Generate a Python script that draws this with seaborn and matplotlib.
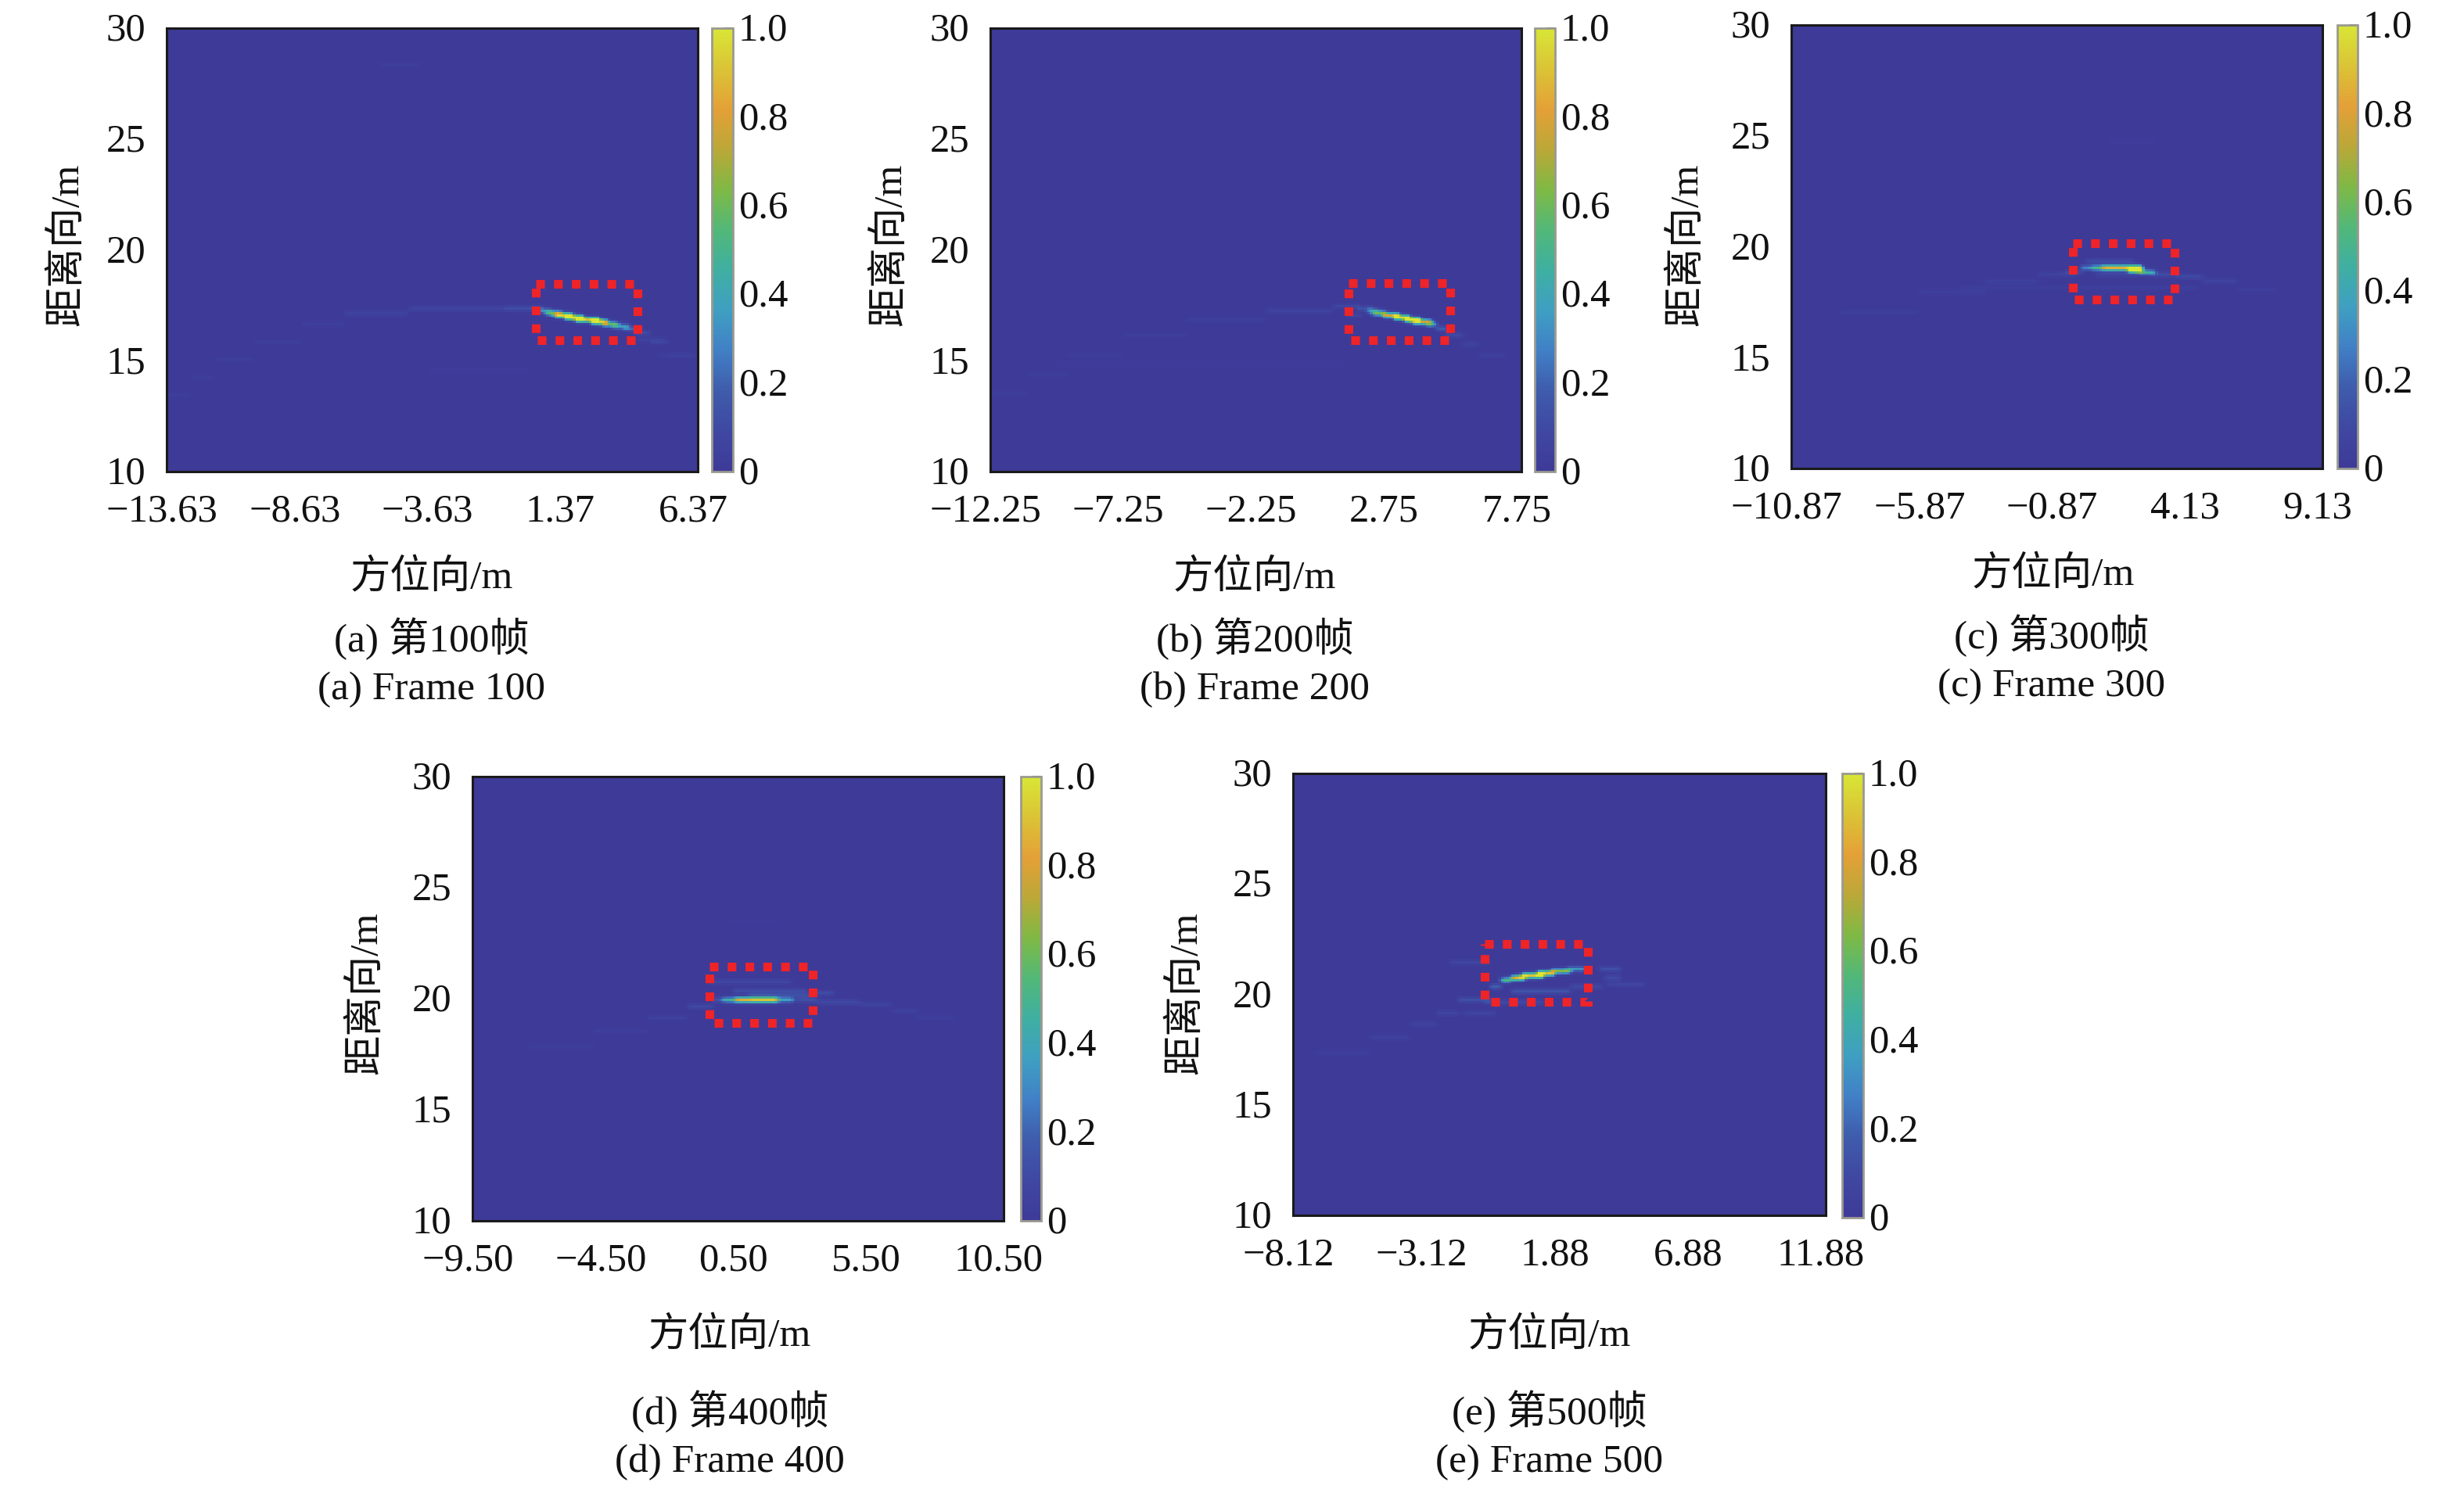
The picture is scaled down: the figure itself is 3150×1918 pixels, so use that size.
import numpy as np
import pandas as pd
import matplotlib
matplotlib.use('Agg')
import matplotlib.pyplot as plt
import seaborn as sns
from matplotlib.colors import LinearSegmentedColormap
from matplotlib.patches import Rectangle
from matplotlib.transforms import ScaledTranslation

# streak data, one run of cells per entry: x from, x to, range, level
a_x0 = [-13.6, -12.7, -11.8, -10.3, -8.5, -6.9, -4.5, -0.9, -5.6, -3.9, 0.2, 0.4, 0.7, 1.0, 1.4, 1.8, 2.4, 2.8, 3.2, 3.6, 4.0, 4.6, 5.3, 4.1, 4.9]
a_x1 = [-12.7, -11.8, -10.3, -8.5, -6.9, -4.5, -0.9, 0.3, -4.0, 0.1, 0.6, 0.9, 1.3, 1.7, 2.1, 2.7, 3.0, 3.4, 3.8, 4.2, 4.6, 5.3, 6.3, 5.1, 6.3]
a_y = [13.5, 14.3, 15.1, 15.9, 16.7, 17.2, 17.4, 17.4, 28.4, 14.6, 17.4, 17.3, 17.2, 17.1, 17.0, 16.9, 16.8, 16.7, 16.6, 16.5, 16.3, 15.9, 15.3, 16.0, 15.3]
a_v = [0.03, 0.03, 0.03, 0.03, 0.04, 0.06, 0.07, 0.13, 0.03, 0.02, 0.15, 0.30, 0.55, 0.85, 0.95, 0.95, 0.85, 0.55, 0.35, 0.22, 0.12, 0.07, 0.05, 0.05, 0.04]
a_box = [0.27, 4.10, 15.93, 18.47]

b_x0 = [-12.2, -10.8, -9.3, -7.3, -4.8, -1.8, 0.7, 1.6, 1.9, 2.2, 2.5, 2.9, 3.3, 3.7, 4.1, 4.5, 4.9, 5.5, 6.2, -9.8, 1.2]
b_x1 = [-10.8, -9.3, -7.3, -4.8, -1.8, 0.7, 1.7, 2.1, 2.4, 2.7, 3.1, 3.6, 4.0, 4.3, 4.6, 5.0, 5.5, 6.2, 7.2, 1.2, 1.8]
b_y = [13.6, 14.4, 15.3, 16.2, 16.9, 17.3, 17.5, 17.4, 17.3, 17.2, 17.1, 17.0, 16.9, 16.8, 16.7, 16.5, 16.2, 15.8, 15.3, 14.9, 17.1]
b_v = [0.03, 0.03, 0.03, 0.03, 0.04, 0.06, 0.08, 0.14, 0.30, 0.60, 0.85, 0.95, 0.95, 0.75, 0.45, 0.20, 0.10, 0.07, 0.04, 0.02, 0.08]
b_box = [1.24, 5.07, 15.93, 18.50]

c_x0 = [-9.1, -6.1, -3.6, -1.6, -0.6, 0.0, 0.4, 0.8, 1.5, 1.8, 2.2, 2.7, 3.6, 4.6, 5.9, 0.2, 0.6, -4.6, -0.6, 0.9]
c_x1 = [-6.1, -3.6, -1.6, -0.2, 0.1, 0.5, 0.9, 1.6, 2.3, 2.3, 2.8, 3.6, 4.6, 5.9, 7.4, 2.0, 2.2, -0.6, 4.4, 2.9]
c_y = [17.1, 18.0, 18.5, 18.8, 18.9, 19.1, 19.1, 19.1, 19.1, 19.0, 18.9, 18.8, 18.7, 18.5, 18.1, 19.4, 18.8, 18.2, 18.2, 24.8]
c_v = [0.03, 0.04, 0.05, 0.07, 0.10, 0.30, 0.55, 0.95, 0.95, 0.90, 0.50, 0.13, 0.10, 0.06, 0.04, 0.12, 0.09, 0.03, 0.04, 0.02]
c_box = [-0.27, 3.56, 17.62, 20.16]

d_x0 = [-7.4, -4.9, -2.9, -1.4, -0.5, -0.1, 0.4, 1.0, 1.9, 2.7, 3.5, 5.1, 6.3, 7.3, -0.6, 0.3, 0.9, 3.3, 5.1, 0.1]
d_x1 = [-4.9, -2.9, -1.4, -0.4, -0.1, 0.5, 1.1, 2.0, 2.6, 3.5, 5.1, 6.3, 7.3, 8.6, 2.5, 3.1, 3.3, 4.1, 6.1, 2.1]
d_y = [17.9, 18.6, 19.2, 19.7, 20.0, 20.0, 20.0, 20.0, 20.0, 20.0, 19.9, 19.8, 19.5, 19.2, 20.8, 20.4, 20.2, 20.3, 19.8, 23.5]
d_v = [0.03, 0.04, 0.05, 0.11, 0.14, 0.50, 0.95, 1.0, 0.40, 0.14, 0.10, 0.06, 0.05, 0.04, 0.09, 0.13, 0.12, 0.12, 0.07, 0.02]
d_box = [-0.58, 3.31, 18.91, 21.44]

e_x0 = [-7.2, -5.2, -3.7, -2.7, -1.9, -0.7, -0.3, 0.1, 0.5, 1.1, 1.6, 2.2, 3.4, 3.6, 3.7, -2.2, 0.1, 2.3, -0.9, -1.7]
e_x1 = [-5.2, -3.7, -2.7, -1.9, -0.7, -0.3, 0.1, 0.6, 1.3, 1.7, 2.3, 2.9, 4.2, 4.2, 5.1, -0.7, 2.3, 3.5, 1.3, -0.5]
e_y = [17.4, 18.1, 18.7, 19.2, 19.8, 20.4, 20.7, 20.8, 20.9, 21.0, 21.1, 21.2, 21.2, 20.8, 20.5, 21.5, 20.2, 20.4, 19.7, 19.2]
e_v = [0.04, 0.05, 0.06, 0.09, 0.14, 0.22, 0.60, 0.95, 1.0, 0.95, 0.70, 0.40, 0.16, 0.12, 0.08, 0.08, 0.16, 0.10, 0.10, 0.08]
e_box = [-0.92, 2.95, 19.66, 22.28]

x_ticks_a = ['\u221213.63', '\u22128.63', '\u22123.63', '1.37', '6.37']
x_ticks_b = ['\u221212.25', '\u22127.25', '\u22122.25', '2.75', '7.75']
x_ticks_c = ['\u221210.87', '\u22125.87', '\u22120.87', '4.13', '9.13']
x_ticks_d = ['\u22129.50', '\u22124.50', '0.50', '5.50', '10.50']
x_ticks_e = ['\u22128.12', '\u22123.12', '1.88', '6.88', '11.88']
y_ticks = [30, 25, 20, 15, 10]
cbar_ticks = [0, 0.2, 0.4, 0.6, 0.8, 1.0]
cbar_labels = ['0', '0.2', '0.4', '0.6', '0.8', '1.0']
x_starts = [-13.63, -12.25, -10.87, -9.50, -8.12]

parula_ish = ['#3E3A98', '#3F48A2', '#3F5CAC', '#4180C6', '#3F9FC2', '#3FAFA2',
              '#52B878', '#7FB945', '#BBA838', '#E4A037', '#DBC336', '#D8E636']
cmap = LinearSegmentedColormap.from_list('parula_ish', parula_ish)

W, H = 3150, 1918
CELL = 0.1
NX, NY = 200, 200


def soften(grid):
    weights = {(0, 0): 0.40, (0, 1): 0.12, (0, -1): 0.12, (1, 0): 0.13, (-1, 0): 0.13,
               (1, 1): 0.025, (1, -1): 0.025, (-1, 1): 0.025, (-1, -1): 0.025}
    soft = np.zeros_like(grid)
    for (dr, dc), w in weights.items():
        soft += w * np.roll(np.roll(grid, dr, axis=0), dc, axis=1)
    return soft


def build_grid(x_start, x0, x1, y, v):
    # paint the runs into a range/azimuth grid, row 0 is the 30 m edge
    grid = np.zeros((NY, NX))
    for a, b, r, level in zip(x0, x1, y, v):
        row = int(round((30 - r) / CELL))
        c0 = max(int(round((a - x_start) / CELL)), 0)
        c1 = min(int(round((b - x_start) / CELL)), NX)
        grid[row, c0:c1] = np.maximum(grid[row, c0:c1], level)
    # the source picture is soft, two passes of a small blur
    return np.clip(soften(soften(grid)) * 1.9, 0, 1)


def px_axes(fig, l, t, r, b):
    return fig.add_axes([l / W, 1 - b / H, (r - l) / W, (b - t) / H])


def px_text(fig, x, y, s, **kw):
    fig.text(x / W, 1 - y / H, s, ha='center', va='center', **kw)


def nudge(labels, fig, dx, dy):
    # shift tick labels by some pixels
    off = ScaledTranslation(dx / 100, dy / 100, fig.dpi_scale_trans)
    for lab in labels:
        lab.set_transform(lab.get_transform() + off)


sns.set_theme(style='white')
plt.rcParams['font.family'] = ['Liberation Serif', 'Noto Sans CJK SC']
plt.rcParams['axes.unicode_minus'] = False

fig = plt.figure(figsize=(W / 100, H / 100), dpi=100)

panels = [
    dict(x=(a_x0, a_x1, a_y, a_v), box=a_box, ticks=x_ticks_a, start=x_starts[0],
         ax=(213, 36, 892, 603), cb=(910, 36, 937, 603), xl=(552, 738), yl=(86, 313),
         cap1=(552, 817), cap2=(552, 882), tag='a', frame=100),
    dict(x=(b_x0, b_x1, b_y, b_v), box=b_box, ticks=x_ticks_b, start=x_starts[1],
         ax=(1266, 36, 1945, 603), cb=(1962, 36, 1988, 603), xl=(1604, 738), yl=(1138, 313),
         cap1=(1604, 817), cap2=(1604, 882), tag='b', frame=200),
    dict(x=(c_x0, c_x1, c_y, c_v), box=c_box, ticks=x_ticks_c, start=x_starts[2],
         ax=(2290, 32, 2969, 599), cb=(2988, 32, 3014, 599), xl=(2625, 734), yl=(2156, 313),
         cap1=(2623, 813), cap2=(2623, 878), tag='c', frame=300),
    dict(x=(d_x0, d_x1, d_y, d_v), box=d_box, ticks=x_ticks_d, start=x_starts[3],
         ax=(604, 993, 1283, 1561), cb=(1305, 993, 1331, 1561), xl=(933, 1707), yl=(468, 1270),
         cap1=(933, 1805), cap2=(933, 1870), tag='d', frame=400),
    dict(x=(e_x0, e_x1, e_y, e_v), box=e_box, ticks=x_ticks_e, start=x_starts[4],
         ax=(1653, 989, 2334, 1554), cb=(2355, 989, 2382, 1557), xl=(1981, 1707), yl=(1516, 1270),
         cap1=(1981, 1805), cap2=(1981, 1870), tag='e', frame=500),
]

for p in panels:
    ax = px_axes(fig, *p['ax'])
    cax = px_axes(fig, *p['cb'])
    df = pd.DataFrame(build_grid(p['start'], *p['x']))
    sns.heatmap(df, ax=ax, cbar_ax=cax, cmap=cmap, vmin=0, vmax=1,
                xticklabels=False, yticklabels=False,
                cbar_kws={'ticks': cbar_ticks})

    for side in ax.spines.values():
        side.set_visible(True)
        side.set_color('#1a1a1a')
        side.set_linewidth(2.2)

    ax.set_xticks(np.arange(5) * 5 / CELL)
    ax.set_xticklabels(p['ticks'])
    ax.set_yticks([(30 - t) / CELL for t in y_ticks])
    ax.set_yticklabels([str(t) for t in y_ticks])
    ax.tick_params(axis='both', direction='in', length=5, width=1, color='#444444',
                   labelsize=36.5, labelcolor='#111111', bottom=True, left=True)
    ax.tick_params(axis='x', pad=20)
    ax.tick_params(axis='y', pad=19)
    nudge(ax.get_xticklabels(), fig, -6, 0)
    nudge(ax.get_yticklabels(), fig, 0, 2)

    cax.set_yticklabels(cbar_labels)
    cax.tick_params(axis='y', direction='in', length=8, width=1.5, color='#555555',
                    labelsize=36.5, labelcolor='#111111', right=True, pad=5)
    nudge(cax.get_yticklabels(), fig, 0, 2)
    cb = ax.collections[0].colorbar
    cb.outline.set_edgecolor('#9a9a90')
    cb.outline.set_linewidth(2)

    # red dotted box round the target
    bx0, bx1, by0, by1 = p['box']
    ax.add_patch(Rectangle(((bx0 - p['start']) / CELL, (30 - by1) / CELL),
                           (bx1 - bx0) / CELL, (by1 - by0) / CELL,
                           fill=False, edgecolor='#EE2428', linewidth=8,
                           linestyle=(0, (1, 1.05))))

    px_text(fig, p['xl'][0], p['xl'][1], '方位向/m', fontsize=37, color='#111111')
    px_text(fig, p['yl'][0], p['yl'][1], '距离向/m', fontsize=37, color='#111111', rotation=90)
    px_text(fig, p['cap1'][0], p['cap1'][1], f"({p['tag']}) 第{p['frame']}帧", fontsize=37, color='#111111')
    px_text(fig, p['cap2'][0], p['cap2'][1], f"({p['tag']}) Frame {p['frame']}", fontsize=37, color='#111111')

fig.savefig('out.png', dpi=100)
